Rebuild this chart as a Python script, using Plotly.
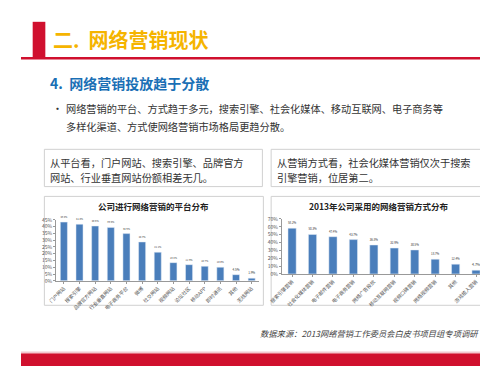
import plotly.graph_objects as go

W, H = 488, 366

platform_labels = ["门户网站", "搜索引擎", "品牌官方网站", "行业垂直网站", "电子商务平台", "微博",
                   "社交网站", "视频网站", "论坛社区", "移动APP", "即时通讯", "其他", "无线网站"]
platform_values = [43.4, 41.8, 40.5, 39.5, 34.9, 28.7, 21.1, 13.4, 11.9, 10.7, 10.0, 4.5, 1.9]

method_labels = ["搜索引擎营销", "社会化媒体营销", "电子邮件营销", "电子商务营销", "网络广告投放",
                 "移动互联网营销", "视频口碑营销", "网络视频营销", "其他", "游戏植入营销"]
method_values = [58.2, 50.3, 47.4, 43.7, 36.8, 32.9, 30.5, 18.7, 12.4, 4.7]

left_ticks = [0, 5, 10, 15, 20, 25, 30, 35, 40, 45]
right_ticks = [0, 10, 20, 30, 40, 50, 60, 70]

FONT = "Noto Sans CJK SC"
BLUE = "#4A7EBB"
RED = "#D0102E"

def px(x):
    return x / W

def py(y):
    return 1 - y / H

fig = go.Figure()

fig.add_trace(go.Bar(
    x=platform_labels, y=platform_values, marker_color=BLUE, width=0.45,
    text=[f"{v:.1f}%" for v in platform_values], textposition="outside",
    textfont=dict(size=5.5, color="#333"), cliponaxis=False,
    xaxis="x", yaxis="y", showlegend=False))

fig.add_trace(go.Bar(
    x=method_labels, y=method_values, marker_color=BLUE, width=0.4,
    text=[f"{v:.1f}%" for v in method_values], textposition="outside",
    textfont=dict(size=5.5, color="#333"), cliponaxis=False,
    xaxis="x2", yaxis="y2", showlegend=False))

axis_common = dict(showgrid=False, zeroline=False, showline=True, linecolor="#999",
                   linewidth=1, ticks="outside", ticklen=2, tickcolor="#999",
                   tickfont=dict(size=5, color="#555", family=FONT))

fig.update_layout(
    width=W, height=H, margin=dict(l=0, r=0, t=0, b=0),
    paper_bgcolor="white", plot_bgcolor="rgba(0,0,0,0)",
    font=dict(family=FONT, color="#333"),
    xaxis=dict(domain=[px(36), px(245)], anchor="y", tickangle=-45, **axis_common),
    yaxis=dict(domain=[py(274), py(212)], anchor="x", range=[0, 45],
               tickvals=left_ticks, ticktext=[f"{t}%" for t in left_ticks], **axis_common),
    xaxis2=dict(domain=[px(268), px(478)], anchor="y2", tickangle=-45, **axis_common),
    yaxis2=dict(domain=[py(267), py(211)], anchor="x2", range=[0, 70],
                tickvals=right_ticks, ticktext=[f"{t}%" for t in right_ticks], **axis_common),
)

shapes = [
    dict(type="rect", xref="paper", yref="paper", x0=px(12), x1=px(25), y0=py(47), y1=py(10),
         fillcolor=RED, line_width=0, layer="below"),
    dict(type="rect", xref="paper", yref="paper", x0=0, x1=1, y0=py(48.5), y1=py(46),
         fillcolor=RED, line_width=0, layer="below"),
    dict(type="rect", xref="paper", yref="paper", x0=px(24), x1=px(248), y0=py(178), y1=py(140),
         line=dict(color="#D0D0D0", width=1), fillcolor="white", layer="below"),
    dict(type="rect", xref="paper", yref="paper", x0=px(257), x1=px(480), y0=py(178), y1=py(140),
         line=dict(color="#D0D0D0", width=1), fillcolor="white", layer="below"),
    dict(type="rect", xref="paper", yref="paper", x0=px(24), x1=px(249), y0=py(299), y1=py(188),
         line=dict(color="#D0D0D0", width=1), fillcolor="white", layer="below"),
    dict(type="rect", xref="paper", yref="paper", x0=px(257), x1=px(480), y0=py(299), y1=py(188),
         line=dict(color="#D0D0D0", width=1), fillcolor="white", layer="below"),
    dict(type="rect", xref="paper", yref="paper", x0=0, x1=1, y0=0, y1=py(348),
         fillcolor=RED, line_width=0, layer="below"),
    dict(type="rect", xref="paper", yref="paper", x0=0, x1=1, y0=py(348), y1=py(346),
         fillcolor="#F2C8CF", line_width=0, layer="below"),
]
fig.update_layout(shapes=shapes)

def ann(x, y, text, size, color="#333", bold=False, xanchor="left", italic=False):
    t = f"<b>{text}</b>" if bold else text
    if italic:
        t = f"<i>{t}</i>"
    fig.add_annotation(xref="paper", yref="paper", x=px(x), y=py(y), text=t,
                       showarrow=False, xanchor=xanchor, yanchor="middle", align="left",
                       borderpad=0, font=dict(size=size, color=color, family=FONT))

ann(32, 28, "二.  网络营销现状", 20, color="#F5B400", bold=True)
ann(29, 72, "4.  网络营销投放趋于分散", 14, color="#1A6FB5", bold=True)
ann(31, 98, "•", 11, color="#333")
ann(45, 98, "网络营销的平台、方式趋于多元，搜索引擎、社会化媒体、移动互联网、电子商务等", 10.2)
ann(45, 117, "多样化渠道、方式使网络营销市场格局更趋分散。", 10.2)
ann(29, 153.5, "从平台看，门户网站、搜索引擎、品牌官方", 10.2)
ann(29, 168.5, "网站、行业垂直网站份额相差无几。", 10.2)
ann(262, 153.5, "从营销方式看，社会化媒体营销仅次于搜索", 10.2)
ann(262, 168.5, "引擎营销，位居第二。", 10.2)
ann(136, 198, "公司进行网络营销的平台分布", 8.5, color="#222", bold=True, xanchor="center")
ann(368, 198, "2013年公司采用的网络营销方式分布", 8.5, color="#222", bold=True, xanchor="center")
ann(472, 327, "数据来源：2013网络营销工作委员会白皮书项目组专项调研", 8.3, color="#444",
    xanchor="right", italic=True)

fig.write_html("out.html")
